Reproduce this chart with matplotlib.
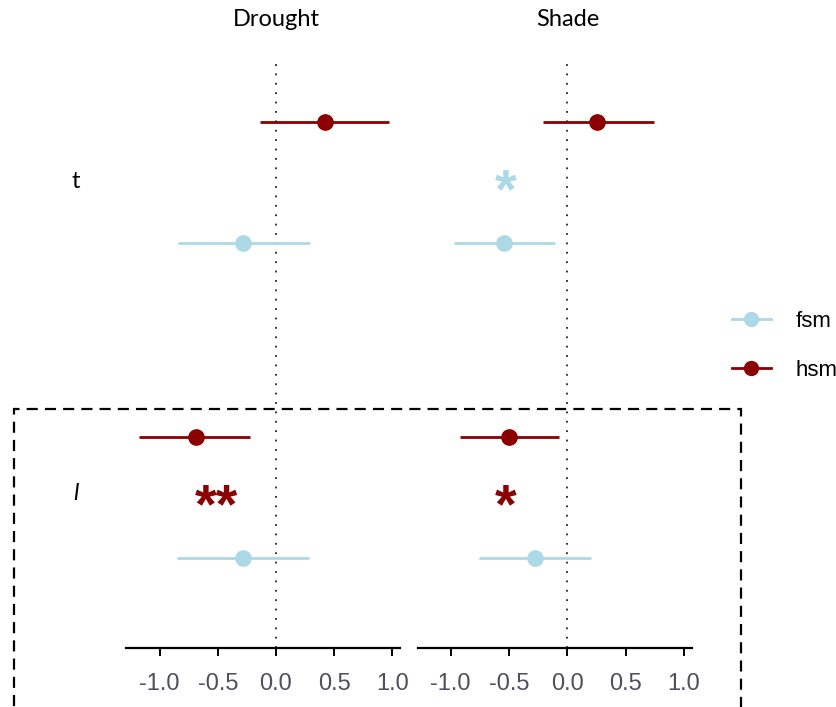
import matplotlib
matplotlib.use("Agg")
import matplotlib.pyplot as plt
from matplotlib.patches import Rectangle
from matplotlib.lines import Line2D

# ---- data ----
panels = ["Drought", "Shade"]
groups = ["t", "l"]            # t = top row, l = bottom row
group_pos = [1, 0]
traits = ["hsm", "fsm"]
trait_offset = {"hsm": 0.192, "fsm": -0.192}
colors = {"hsm": "#8B0000", "fsm": "#ADD8E6"}

# estimates [panel][group]
hsm_est = {"Drought": [0.42, -0.69], "Shade": [0.25, -0.50]}
hsm_lo = {"Drought": [-0.14, -1.18], "Shade": [-0.21, -0.92]}
hsm_hi = {"Drought": [0.97, -0.22], "Shade": [0.74, -0.07]}
fsm_est = {"Drought": [-0.28, -0.28], "Shade": [-0.54, -0.28]}
fsm_lo = {"Drought": [-0.84, -0.85], "Shade": [-0.97, -0.76]}
fsm_hi = {"Drought": [0.29, 0.28], "Shade": [-0.11, 0.20]}

# significance stars: panel, group, x, label, trait colour
star_panel = ["Drought", "Shade", "Shade"]
star_group = ["l", "t", "l"]
star_x = [-0.51, -0.53, -0.53]
star_label = ["**", "*", "*"]
star_trait = ["hsm", "fsm", "hsm"]

xticks = [-1.0, -0.5, 0.0, 0.5, 1.0]
xlims = {"Drought": (-1.29, 1.067), "Shade": (-1.28, 1.068)}

W, H = 836, 707
fig = plt.figure(figsize=(W / 100, H / 100), dpi=100)

ax_left = {"Drought": 126, "Shade": 418}
ax_w = 274
bottom_px, top_px = 648, 62

est = {"hsm": hsm_est, "fsm": fsm_est}
lo = {"hsm": hsm_lo, "fsm": fsm_lo}
hi = {"hsm": hsm_hi, "fsm": fsm_hi}

handles = {}
for p in panels:
    ax = fig.add_axes([ax_left[p] / W, 1 - bottom_px / H, ax_w / W, (bottom_px - top_px) / H])
    ax.set_xlim(*xlims[p])
    ax.set_ylim(-0.479, 1.381)
    ax.axvline(0, color="#222222", lw=1.3, linestyle=(0, (1, 4.2)), zorder=1)
    for tr in traits:
        for gi, g in enumerate(groups):
            y = group_pos[gi] + trait_offset[tr]
            ax.plot([lo[tr][p][gi], hi[tr][p][gi]], [y, y], color=colors[tr], lw=2.0,
                    solid_capstyle="butt", zorder=2)
            ax.plot([est[tr][p][gi]], [y], marker="o", ms=11, color=colors[tr],
                    lw=2.0, zorder=3)
            handles[tr] = Line2D([0], [0], color=colors[tr], lw=2.0, marker="o", ms=10)
    for sp, sg, sx, sl, st in zip(star_panel, star_group, star_x, star_label, star_trait):
        if sp != p:
            continue
        y = group_pos[groups.index(sg)]
        ax.text(sx, y - 0.035, sl, color=colors[st], fontsize=40, fontweight="bold",
                ha="center", va="center", family="Liberation Sans")
    for s in ["top", "right", "left"]:
        ax.spines[s].set_visible(False)
    ax.spines["bottom"].set_linewidth(1.6)
    ax.set_yticks([])
    ax.set_xticks(xticks)
    ax.set_xticklabels([f"{v:.1f}" for v in xticks], family="Liberation Sans",
                       fontsize=17, color="#4f4f60")
    ax.tick_params(axis="x", length=6, width=1.4, pad=12)
    ax.patch.set_alpha(0)
    x0 = ax_left[p] + (0 - xlims[p][0]) / (xlims[p][1] - xlims[p][0]) * ax_w
    fig.text(x0 / W, 1 - 20 / H, p, ha="center", va="center", fontsize=17, family="Lato")

# row labels
fig.text(76 / W, 1 - 182 / H, "t", ha="center", va="center", fontsize=17, family="Lato")
fig.text(76 / W, 1 - 493 / H, "l", ha="center", va="center", fontsize=17, family="Lato",
         style="italic")

# legend
fig.legend([handles["fsm"], handles["hsm"]], ["fsm", "hsm"], loc="center left",
           bbox_to_anchor=(712 / W, 1 - 346 / H), frameon=False,
           prop={"family": "Liberation Sans", "size": 16}, labelspacing=1.25,
           handlelength=1.75, handletextpad=1.1)

# dashed frame around bottom row
fig.patches.append(Rectangle((14 / W, -0.05), (741 - 14) / W, 1 - 409 / H + 0.05,
                             transform=fig.transFigure, fill=False, edgecolor="black",
                             lw=1.6, linestyle=(0, (5, 3.2))))

fig.savefig("out.png", dpi=100)
